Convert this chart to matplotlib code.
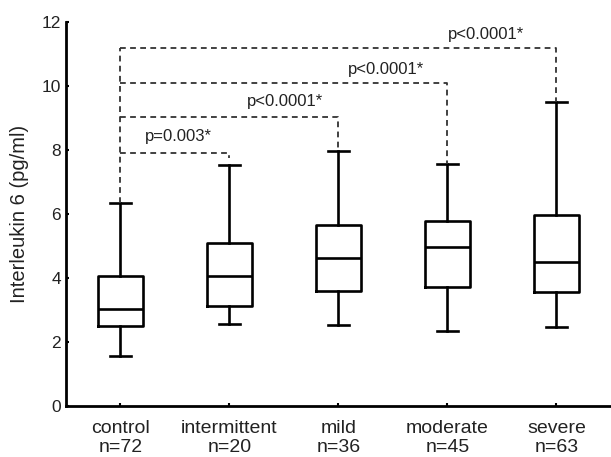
import matplotlib
matplotlib.use("Agg")
import matplotlib.pyplot as plt

plt.rcParams['font.family'] = ['Liberation Sans', 'DejaVu Sans']

categories = ["control\nn=72", "intermittent\nn=20", "mild\nn=36", "moderate\nn=45", "severe\nn=63"]
whislo = [1.56, 2.56, 2.53, 2.35, 2.48]
q1 = [2.51, 3.12, 3.59, 3.71, 3.56]
med = [3.03, 4.06, 4.61, 4.96, 4.51]
q3 = [4.06, 5.08, 5.65, 5.78, 5.97]
whishi = [6.33, 7.54, 7.97, 7.56, 9.51]

# significance brackets: (target index, bracket height, right drop end, label)
br_targets = [1, 2, 3, 4]
br_heights = [7.92, 9.02, 10.09, 11.18]
br_right_ends = [7.75, 8.06, 7.56, 9.51]
br_labels = ["p=0.003*", "p<0.0001*", "p<0.0001*", "p<0.0001*"]
br_label_x = [0.22, 1.16, 2.09, 3.0]
br_label_y = [8.42, 9.5, 10.5, 11.6]

fig = plt.figure(figsize=(6.11, 4.57), dpi=100)
ax = fig.add_axes([0.108, 0.1116, 0.892, 0.8404])

stats = []
for i in range(len(categories)):
    stats.append(dict(med=med[i], q1=q1[i], q3=q3[i], whislo=whislo[i], whishi=whishi[i], label=categories[i], fliers=[]))

lw = 1.9
ax.bxp(stats, positions=range(len(categories)), widths=0.41, showfliers=False,
       boxprops=dict(color='black', linewidth=lw),
       medianprops=dict(color='black', linewidth=lw),
       whiskerprops=dict(color='black', linewidth=lw),
       capprops=dict(color='black', linewidth=lw),
       capwidths=0.19)

dash = dict(color='#333333', linewidth=1.3, linestyle=(0, (3.2, 2.4)))
ax.plot([0, 0], [whishi[0], max(br_heights)], **dash)
for t, h, r, lab, lx, ly in zip(br_targets, br_heights, br_right_ends, br_labels, br_label_x, br_label_y):
    ax.plot([0, t, t], [h, h, r], **dash)
    ax.text(lx, ly, lab, fontsize=12, ha='left', va='center', color='#222222')

ax.set_xlim(-0.5, 4.5)
ax.set_ylim(0, 12)
ax.set_yticks([0, 2, 4, 6, 8, 10, 12])
ax.set_ylabel("Interleukin 6 (pg/ml)", fontsize=14.5, color='#222222', labelpad=9)
ax.tick_params(axis='y', labelsize=12.5)
ax.tick_params(axis='x', labelsize=14, pad=10)
ax.tick_params(axis='both', direction='in', length=2.5, width=1.5, colors='black', labelcolor='#222222')
for s in ['top', 'right']:
    ax.spines[s].set_visible(False)
for s in ['left', 'bottom']:
    ax.spines[s].set_linewidth(2)

fig.savefig("out.png", dpi=100)
